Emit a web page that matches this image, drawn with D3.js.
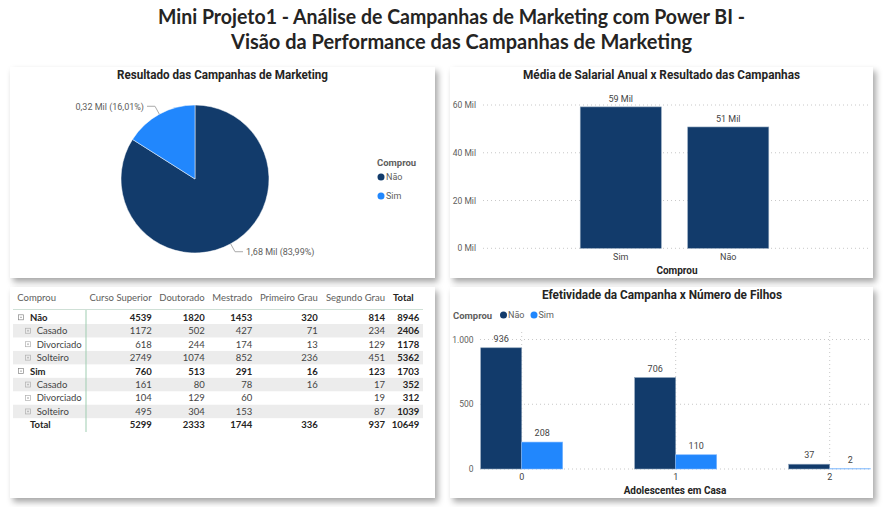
<!DOCTYPE html>
<html><head><meta charset="utf-8">
<script src="https://cdn.jsdelivr.net/npm/d3@7"></script>
<style>
body{margin:0;background:#fff;}
svg{display:block;}
text{font-family:"Lato","Noto Sans",sans-serif;}
.din{font-family:"Roboto","DejaVu Sans",sans-serif;}
</style></head>
<body>
<svg id="c" width="884" height="507"></svg>
<script>
// ---------- DATA ----------
const mainTitle = ["Mini Projeto1 - Análise de Campanhas de Marketing com Power BI -",
                   "Visão da Performance das Campanhas de Marketing"];
const compraCats = ["Não", "Sim"];
const compraCounts = [1679, 320];
const salaryCats = ["Sim", "Não"];
const salaryValues = [59200, 50800];
const salaryTicks = [0, 20000, 40000, 60000];
const teenCats = ["0", "1", "2"];
const teenNao = [936, 706, 37];
const teenSim = [208, 110, 2];
const teenTicks = [0, 500, 1000];
const eduCols = ["Curso Superior", "Doutorado", "Mestrado", "Primeiro Grau", "Segundo Grau"];
const civilCats = ["Casado", "Divorciado", "Solteiro"];
const naoMatrix = [[1172, 502, 427, 71, 234], [618, 244, 174, 13, 129], [2749, 1074, 852, 236, 451]];
const simMatrix = [[161, 80, 78, 16, 17], [104, 129, 60, null, 19], [495, 304, 153, null, 87]];

const COL_NAO = "#123b6b", COL_SIM = "#2187fd";
const colorOf = c => c === "Não" ? COL_NAO : COL_SIM;

const svg = d3.select("#c");
const defs = svg.append("defs");
const f = defs.append("filter").attr("id", "sh").attr("x", "-5%").attr("y", "-5%").attr("width", "115%").attr("height", "120%");
f.append("feDropShadow").attr("dx", 3).attr("dy", 4).attr("stdDeviation", 3).attr("flood-color", "#000").attr("flood-opacity", 0.35);

// Main title
svg.append("text").attr("x", 158).attr("y", 24).attr("font-size", 20).attr("font-weight", 700)
  .attr("fill", "#252423").attr("textLength", 587).attr("lengthAdjust", "spacingAndGlyphs").text(mainTitle[0]);
svg.append("text").attr("x", 231).attr("y", 49).attr("font-size", 20).attr("font-weight", 700)
  .attr("fill", "#252423").attr("textLength", 461).attr("lengthAdjust", "spacingAndGlyphs").text(mainTitle[1]);

// Panels
const panels = [[10, 67, 425, 211], [450, 67, 423, 211], [10, 287, 425, 211], [450, 287, 423, 211]];
panels.forEach(p => svg.append("rect").attr("x", p[0]).attr("y", p[1]).attr("width", p[2]).attr("height", p[3])
  .attr("fill", "#fff").attr("filter", "url(#sh)"));

function vtitle(x, y, w, t) {
  svg.append("text").attr("class", "din").attr("x", x).attr("y", y).attr("font-size", 12).attr("font-weight", 700)
    .attr("fill", "#252423").attr("textLength", w).attr("lengthAdjust", "spacingAndGlyphs").text(t);
}

// ---------- PIE ----------
vtitle(117, 79, 211, "Resultado das Campanhas de Marketing");
const total = d3.sum(compraCounts);
const pie = d3.pie().sort(null).value(d => d.v);
const arcs = pie(compraCats.map((c, i) => ({ c, v: compraCounts[i] })));
const R = 74, cx = 195, cy = 179;
const arc = d3.arc().innerRadius(0).outerRadius(R);
const pg = svg.append("g").attr("transform", `translate(${cx},${cy})`);
pg.selectAll("path").data(arcs).join("path").attr("d", arc).attr("fill", d => colorOf(d.data.c))
  .attr("stroke", "#fff").attr("stroke-width", 0.5);
const fmtNum = (v, n) => v.toFixed(n).replace(".", ",");
arcs.forEach(d => {
  const a = (d.startAngle + d.endAngle) / 2;
  const p0 = [R * Math.sin(a), -R * Math.cos(a)];
  const p1 = [(R + 9) * Math.sin(a), -(R + 9) * Math.cos(a)];
  const side = Math.sin(a) >= 0 ? 1 : -1;
  const p2 = [p1[0] + side * 8, p1[1]];
  pg.append("polyline").attr("points", [p0, p1, p2].map(p => p.join(",")).join(" "))
    .attr("fill", "none").attr("stroke", "#aaa").attr("stroke-width", 1);
  pg.append("text").attr("class", "din").attr("x", p2[0] + side * 3).attr("y", p2[1] + 3.5)
    .attr("text-anchor", side > 0 ? "start" : "end").attr("font-size", 9).attr("fill", "#605e5c")
    .text(`${fmtNum(d.data.v / 1000, 2)} Mil (${fmtNum(d.data.v / total * 100, 2)}%)`);
});
// legend
svg.append("text").attr("class", "din").attr("x", 377).attr("y", 166).attr("font-size", 9.5).attr("font-weight", 700)
  .attr("fill", "#605e5c").text("Comprou");
compraCats.forEach((c, i) => {
  const y = 177 + i * 19;
  svg.append("circle").attr("cx", 381).attr("cy", y).attr("r", 3.5).attr("fill", colorOf(c));
  svg.append("text").attr("class", "din").attr("x", 386).attr("y", y + 3.3).attr("font-size", 9).attr("fill", "#605e5c").text(c);
});

// ---------- SALARY BAR ----------
vtitle(523, 79, 277, "Média de Salarial Anual x Resultado das Campanhas");
const sx = d3.scaleBand().domain(salaryCats).range([567, 782]).paddingInner(0.246).paddingOuter(0.123);
const sy = d3.scaleLinear().domain([0, 60000]).range([248.3, 105]);
const fmtMil = v => `${Math.round(v / 1000)} Mil`;
const sg = svg.append("g");
salaryTicks.forEach(t => {
  sg.append("line").attr("x1", 483).attr("x2", 870).attr("y1", sy(t)).attr("y2", sy(t))
    .attr("stroke", "#c8c8c8").attr("stroke-dasharray", "1,3");
  sg.append("text").attr("class", "din").attr("x", 476).attr("y", sy(t) + 3).attr("text-anchor", "end")
    .attr("font-size", 8.5).attr("fill", "#605e5c").text(fmtMil(t));
});
sg.selectAll("rect.b").data(salaryCats).join("rect").attr("class", "b")
  .attr("x", d => sx(d)).attr("width", sx.bandwidth())
  .attr("y", (d, i) => sy(salaryValues[i])).attr("height", (d, i) => sy(0) - sy(salaryValues[i]))
  .attr("fill", COL_NAO).attr("stroke", "#8aa0b8").attr("stroke-width", 0.6);
salaryCats.forEach((c, i) => {
  sg.append("text").attr("class", "din").attr("x", sx(c) + sx.bandwidth() / 2).attr("y", sy(salaryValues[i]) - 5)
    .attr("text-anchor", "middle").attr("font-size", 9).attr("fill", "#444").text(fmtMil(salaryValues[i]));
  sg.append("text").attr("class", "din").attr("x", sx(c) + sx.bandwidth() / 2).attr("y", 260)
    .attr("text-anchor", "middle").attr("font-size", 9).attr("fill", "#444").text(c);
});
sg.append("text").attr("class", "din").attr("x", 677).attr("y", 273.5).attr("text-anchor", "middle")
  .attr("font-size", 10).attr("font-weight", 700).attr("fill", "#252423").text("Comprou");

// ---------- TEEN BAR ----------
vtitle(542, 299, 240, "Efetividade da Campanha x Número de Filhos");
svg.append("text").attr("class", "din").attr("x", 453).attr("y", 318.5).attr("font-size", 9.5).attr("font-weight", 700)
  .attr("fill", "#605e5c").text("Comprou");
compraCats.forEach((c, i) => {
  const x = 503.5 + i * 30.5;
  svg.append("circle").attr("cx", x).attr("cy", 315).attr("r", 3.5).attr("fill", colorOf(c));
  svg.append("text").attr("class", "din").attr("x", x + 4.5).attr("y", 318.3).attr("font-size", 9).attr("fill", "#605e5c").text(c);
});
const tx = d3.scaleBand().domain(teenCats).range([480.7, 870.7]).paddingInner(0.4675).paddingOuter(0);
const tx1 = d3.scaleBand().domain(compraCats).range([0, tx.bandwidth()]);
const ty = d3.scaleLinear().domain([0, 1000]).range([469, 339.5]);
const tg = svg.append("g");
teenTicks.forEach(t => {
  tg.append("line").attr("x1", 480).attr("x2", 870).attr("y1", ty(t)).attr("y2", ty(t))
    .attr("stroke", "#c8c8c8").attr("stroke-dasharray", "1,3");
  tg.append("text").attr("class", "din").attr("x", 473.5).attr("y", ty(t) + 3).attr("text-anchor", "end")
    .attr("font-size", 8.5).attr("fill", "#605e5c").text(d3.format(",")(t).replace(",", "."));
});
teenCats.forEach(c => {
  const xc = tx(c) + tx.bandwidth() / 2;
  tg.append("line").attr("x1", xc).attr("x2", xc).attr("y1", 332).attr("y2", 469)
    .attr("stroke", "#c8c8c8").attr("stroke-dasharray", "1,3");
});
const series = [teenNao, teenSim];
compraCats.forEach((s, si) => {
  teenCats.forEach((c, ci) => {
    const v = series[si][ci];
    const x = tx(c) + tx1(s);
    tg.append("rect").attr("x", x).attr("width", tx1.bandwidth()).attr("y", ty(v)).attr("height", ty(0) - ty(v))
      .attr("fill", colorOf(s)).attr("stroke", si === 0 ? "#8aa0b8" : "#7fb8ff").attr("stroke-width", 0.6);
    tg.append("text").attr("class", "din").attr("x", x + tx1.bandwidth() / 2).attr("y", ty(v) - 6)
      .attr("text-anchor", "middle").attr("font-size", 9).attr("fill", "#444").text(v);
  });
  });
teenCats.forEach(c => {
  tg.append("text").attr("class", "din").attr("x", tx(c) + tx.bandwidth() / 2).attr("y", 480)
    .attr("text-anchor", "middle").attr("font-size", 9).attr("fill", "#444").text(c);
});
tg.append("text").attr("class", "din").attr("x", 675).attr("y", 493.5).attr("text-anchor", "middle")
  .attr("font-size", 10).attr("font-weight", 700).attr("fill", "#252423").text("Adolescentes em Casa");

// ---------- MATRIX ----------
const mg = svg.append("g");
const colRight = [151.7, 204.7, 252.3, 317.7, 385, 419.3];
const rowH = 13.45, row0 = 317.3;
const rows = [];
[["Não", naoMatrix], ["Sim", simMatrix]].forEach(([g, m]) => {
  const vals = eduCols.map((e, j) => d3.sum(m, r => r[j] || 0));
  rows.push({ label: g, level: 0, vals, tot: d3.sum(vals) });
  civilCats.forEach((cv, k) => rows.push({ label: cv, level: 1, vals: m[k], tot: d3.sum(m[k], v => v || 0) }));
});
const totVals = eduCols.map((e, j) => d3.sum(rows.filter(r => r.level === 0), r => r.vals[j]));
rows.push({ label: "Total", level: -1, vals: totVals, tot: d3.sum(totVals) });

// header
const hy = 300.5;
mg.append("text").attr("x", 17.3).attr("y", hy).attr("font-size", 9.5).attr("fill", "#605e5c").text("Comprou");
eduCols.forEach((e, j) => mg.append("text").attr("x", colRight[j]).attr("y", hy).attr("text-anchor", "end")
  .attr("font-size", 9.5).attr("fill", "#605e5c").text(e));
mg.append("text").attr("x", 393).attr("y", hy).attr("font-size", 9.5).attr("font-weight", 700).attr("fill", "#252423").text("Total");
rows.forEach((r, i) => {
  const yc = row0 + i * rowH;
  const shaded = r.level === 1 && (r.label === "Casado" || r.label === "Solteiro");
  if (shaded) mg.append("rect").attr("x", 13).attr("y", yc - rowH / 2).attr("width", 410).attr("height", rowH).attr("fill", "#ececec");
});
mg.append("line").attr("x1", 13).attr("x2", 423).attr("y1", 309.5).attr("y2", 309.5).attr("stroke", "#cfe0d6").attr("stroke-width", 1);
mg.append("line").attr("x1", 86).attr("x2", 86).attr("y1", 310).attr("y2", 432).attr("stroke", "#9fcdb1").attr("stroke-width", 1);
rows.forEach((r, i) => {
  const yc = row0 + i * rowH, by = yc + 3.4;
  const bold = r.level !== 1;
  if (r.level >= 0) {
    const bx = r.level === 0 ? 18 : 25;
    mg.append("rect").attr("x", bx + 0.5).attr("y", yc - 2.5).attr("width", 5).attr("height", 5).attr("fill", "none")
      .attr("stroke", r.level === 0 ? "#888" : "#b0b0b0").attr("stroke-width", 0.7);
    mg.append("line").attr("x1", bx + 2).attr("x2", bx + 4).attr("y1", yc).attr("y2", yc).attr("stroke", r.level === 0 ? "#888" : "#b0b0b0").attr("stroke-width", 0.7);
    if (r.level === 1) mg.append("line").attr("x1", bx + 3).attr("x2", bx + 3).attr("y1", yc - 1).attr("y2", yc + 1).attr("stroke", "#b0b0b0").attr("stroke-width", 0.7);
  }
  const lx = r.level === 1 ? 36.7 : 30;
  mg.append("text").attr("x", lx).attr("y", by).attr("font-size", 9.5).attr("font-weight", bold ? 700 : 400)
    .attr("fill", bold ? "#252423" : "#444").text(r.label);
  r.vals.forEach((v, j) => {
    if (v == null) return;
    mg.append("text").attr("x", colRight[j]).attr("y", by).attr("text-anchor", "end").attr("font-size", 9.5)
      .attr("font-weight", bold ? 700 : 400).attr("fill", bold ? "#252423" : "#444").text(v);
  });
  mg.append("text").attr("x", colRight[5]).attr("y", by).attr("text-anchor", "end").attr("font-size", 9.5)
    .attr("font-weight", 700).attr("fill", "#252423").text(r.tot);
});
</script>
</body></html>
